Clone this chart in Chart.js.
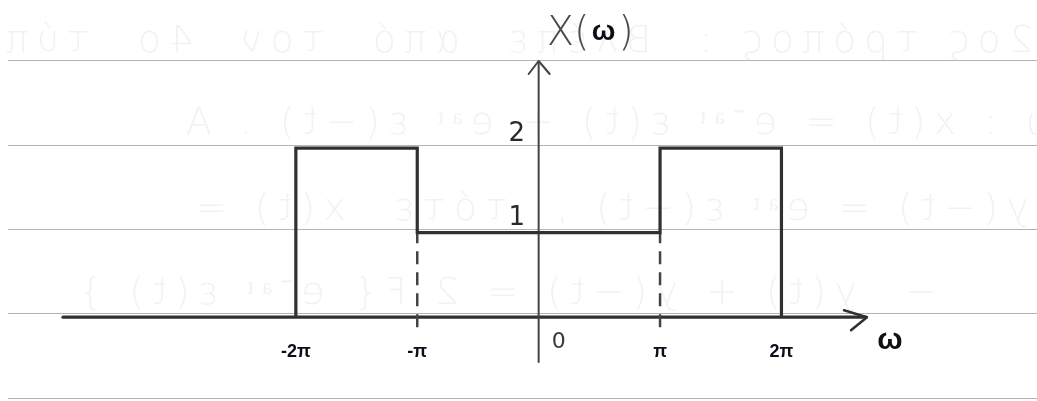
<!DOCTYPE html>
<html>
<head>
<meta charset="utf-8">
<script src="https://cdn.jsdelivr.net/npm/chart.js"></script>
<style>
	body { margin: 0; background: #fff; }
	#wrap { width: 1037px; height: 401px; }
</style>
</head>
<body>
<div id="wrap"><canvas id="chart" width="1037" height="401"></canvas></div>
<script>
// omega is given in units of pi
var omegaTicks = [-2, -1, 0, 1, 2];
var omegaLabels = ['-2π', '-π', '0', 'π', '2π'];
// X(w) is piecewise constant between these edges
var bandEdges = [-2, -1, 1, 2];
var bandLevels = [2, 1, 2];
// dashed drops under the inner edges
var dropEdges = [-1, 1];
var dropLevel = 1;
var levelTicks = [1, 2];
var levelLabels = ['1', '2'];

// faint writing that shows through from the back of the page (mirrored)
var backText = [
	'2ος τρόπος :  Βλέπε  από  τον  4ο  τύπο',
	'ω : x(t) = e⁻ᵃᵗ ε(t) + eᵃᵗ ε(−t) . Α',
	'y(−t) = eᵃᵗ ε(−t) ,  τότε  x(t) =',
	'−  y(t) + y(−t) = 2 F{ e⁻ᵃᵗ ε(t) }'
];

// build the step outline : up at the first edge, across each band, down at the last edge
var stepPts = [{x: bandEdges[0], y: 0}];
for (var i = 0; i < bandLevels.length; i++) {
	stepPts.push({x: bandEdges[i], y: bandLevels[i]});
	stepPts.push({x: bandEdges[i + 1], y: bandLevels[i]});
}
stepPts.push({x: bandEdges[bandEdges.length - 1], y: 0});

var dropPts = [];
dropEdges.forEach(function(e, k) {
	if (k > 0) dropPts.push({x: e, y: null});
	dropPts.push({x: e, y: -0.12});
	dropPts.push({x: e, y: dropLevel});
});

var ink = '#303030';

var paper = {
	id: 'paper',
	beforeDraw: function(chart) {
		var ctx = chart.ctx, w = chart.width;
		ctx.save();
		ctx.fillStyle = '#fff';
		ctx.fillRect(0, 0, w, chart.height);

		// back-side writing, mirrored and very light
		ctx.save();
		ctx.translate(w, 0);
		ctx.scale(-1, 1);
		ctx.fillStyle = 'rgba(90,90,90,0.08)';
		ctx.font = '200 38px "DejaVu Sans"';
		ctx.letterSpacing = '8px';
		ctx.textBaseline = 'alphabetic';
		var rows = [[4, 52], [-20, 134], [8, 220], [100, 304]];
		backText.forEach(function(t, k) {
			ctx.fillText(t, rows[k][0], rows[k][1]);
		});
		ctx.restore();

		// ruled notebook lines
		ctx.strokeStyle = '#b4b4b4';
		ctx.lineWidth = 1.2;
		[60, 145, 229, 313, 398].forEach(function(y) {
			ctx.beginPath();
			ctx.moveTo(8, y + 0.5);
			ctx.lineTo(w, y + 0.5);
			ctx.stroke();
		});
		ctx.restore();
	},
	beforeDatasetsDraw: function(chart) {
		var ctx = chart.ctx;
		var xS = chart.scales.x, yS = chart.scales.y;
		var x0 = xS.getPixelForValue(0), y0 = yS.getPixelForValue(0);
		ctx.save();
		ctx.strokeStyle = ink;
		ctx.lineCap = 'round';
		ctx.lineJoin = 'round';

		// omega axis with open arrow head
		ctx.lineWidth = 3.2;
		ctx.beginPath();
		ctx.moveTo(63, y0);
		ctx.lineTo(866, y0);
		ctx.stroke();
		ctx.lineWidth = 2.5;
		ctx.beginPath();
		ctx.moveTo(844, y0 - 7);
		ctx.lineTo(867, y0);
		ctx.lineTo(851, y0 + 13);
		ctx.stroke();

		// X axis
		ctx.lineWidth = 2;
		ctx.strokeStyle = '#444';
		ctx.beginPath();
		ctx.moveTo(x0, 362);
		ctx.lineTo(x0, 62);
		ctx.stroke();
		ctx.beginPath();
		ctx.moveTo(x0 - 10, 74);
		ctx.lineTo(x0, 61);
		ctx.lineTo(x0 + 11, 74);
		ctx.stroke();
		ctx.restore();
	},
	afterDatasetsDraw: function(chart) {
		var ctx = chart.ctx;
		var xS = chart.scales.x, yS = chart.scales.y;
		var x0 = xS.getPixelForValue(0), y0 = yS.getPixelForValue(0);
		ctx.save();
		ctx.textAlign = 'center';
		ctx.textBaseline = 'middle';

		// typed tick labels
		ctx.fillStyle = '#0d0d18';
		ctx.font = 'bold 18px "Liberation Sans"';
		omegaTicks.forEach(function(v, k) {
			if (v === 0) return;
			ctx.fillText(omegaLabels[k], xS.getPixelForValue(v), y0 + 35);
		});
		// the hand written 0 sits right of the axis
		ctx.fillStyle = '#3a3a3a';
		ctx.font = '22px "DejaVu Sans"';
		ctx.fillText(omegaLabels[omegaTicks.indexOf(0)], x0 + 20, y0 + 25);

		// level labels
		ctx.fillStyle = '#2a2a2a';
		ctx.font = '26px "DejaVu Sans"';
		levelTicks.forEach(function(v, k) {
			ctx.fillText(levelLabels[k], x0 - 22, yS.getPixelForValue(v) - 14);
		});

		// axis names
		ctx.fillStyle = '#111';
		ctx.font = 'bold 30px "Liberation Sans"';
		ctx.fillText('ω', 890, y0 + 24);

		ctx.textAlign = 'left';
		ctx.textBaseline = 'alphabetic';
		var tx = x0 + 8;
		ctx.fillStyle = '#4a4a4a';
		ctx.font = '200 40px "DejaVu Sans"';
		ctx.fillText('X(', tx, 45);
		tx += ctx.measureText('X(').width + 2;
		ctx.fillStyle = '#0d0d18';
		ctx.font = 'bold 28px "Liberation Sans"';
		ctx.fillText('ω', tx, 40);
		tx += ctx.measureText('ω').width + 3;
		ctx.fillStyle = '#4a4a4a';
		ctx.font = '200 40px "DejaVu Sans"';
		ctx.fillText(')', tx, 45);
		ctx.restore();
	}
};

var chart = new Chart(document.getElementById('chart'), {
	type: 'scatter',
	data: {
		datasets: [{
			label: 'X(ω)',
			data: stepPts,
			showLine: true,
			borderColor: ink,
			borderWidth: 3.2,
			borderJoinStyle: 'miter',
			pointRadius: 0,
			tension: 0
		}, {
			label: 'drops',
			data: dropPts,
			showLine: true,
			spanGaps: false,
			borderColor: '#444',
			borderWidth: 2.5,
			borderDash: [13, 8],
			pointRadius: 0
		}]
	},
	options: {
		responsive: false,
		animation: false,
		layout: { padding: 0 },
		plugins: { legend: { display: false }, tooltip: { enabled: false } },
		scales: {
			x: { type: 'linear', min: -4.437, max: 4.105, display: false },
			y: { type: 'linear', min: -0.992, max: 3.754, display: false }
		}
	},
	plugins: [paper]
});
</script>
</body>
</html>
